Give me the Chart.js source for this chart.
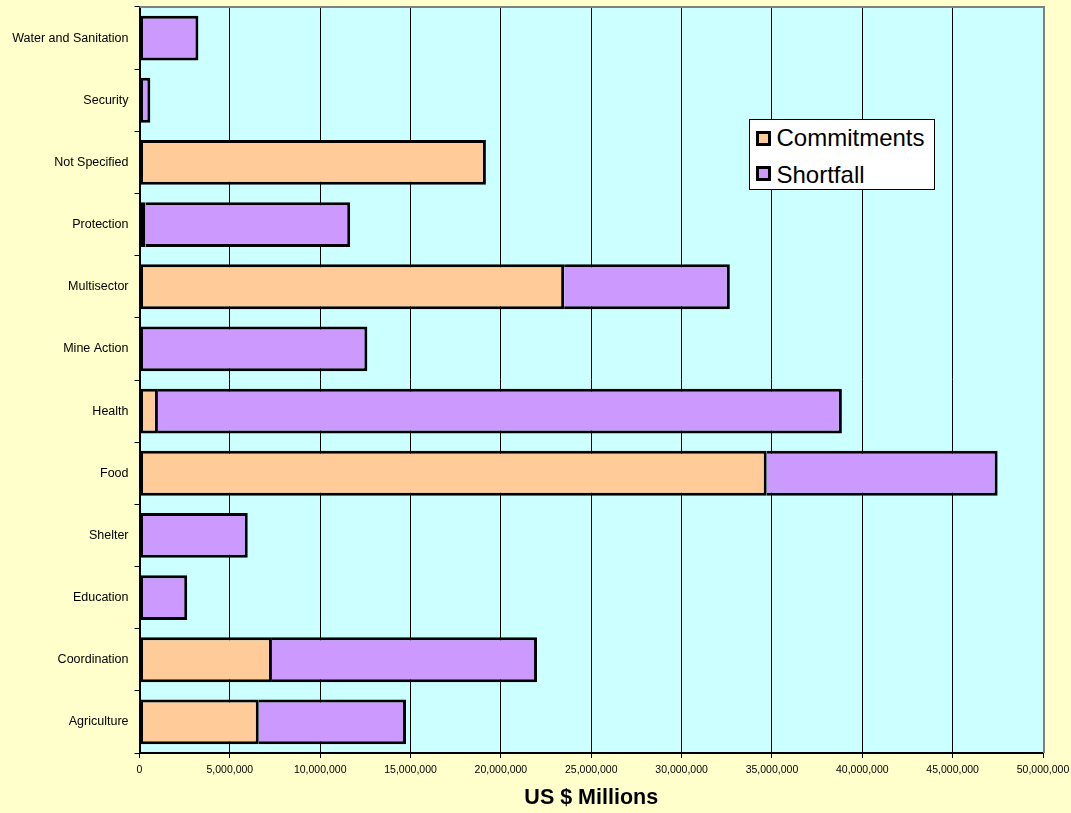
<!DOCTYPE html>
<html>
<head>
<meta charset="utf-8">
<script src="https://cdn.jsdelivr.net/npm/chart.js@4"></script>
<style>
  body { margin: 0; background: #FFFFCC; }
  #wrap { position: relative; width: 1071px; height: 813px; }
  #legend {
    position: absolute; left: 749px; top: 119px; width: 186px; height: 71px;
    box-sizing: border-box; border: 1px solid #000; background: #fff;
    font-family: Arial, 'Liberation Sans', sans-serif; font-size: 24px; line-height: 24px;
  }
  #legend .sw { position: absolute; width: 15px; height: 15px; box-sizing: border-box; border: 3px solid #000; }
  #legend .tx { position: absolute; white-space: nowrap; }
</style>
</head>
<body>
<div id="wrap">
  <canvas id="barChart" width="1071" height="813"></canvas>
  <div id="legend"></div>
</div>
<script>
const categories = ['Water and Sanitation', 'Security', 'Not Specified', 'Protection', 'Multisector', 'Mine Action',
    'Health', 'Food', 'Shelter', 'Education', 'Coordination', 'Agriculture'];
const commitments = [0, 0, 19170000, 330000, 23500000, 0, 1020000, 34710000, 0, 0, 7330000, 6600000];
const shortfall = [3260000, 600000, 0, 11330000, 9170000, 12610000, 37850000, 12780000, 5990000, 2640000, 14670000, 8150000];
const xTicks = [0, 5000000, 10000000, 15000000, 20000000, 25000000, 30000000, 35000000, 40000000, 45000000, 50000000];
const seriesNames = ['Commitments', 'Shortfall'];
const seriesColors = ['#FFCC99', '#CC99FF'];

const font = "Arial, 'Liberation Sans', sans-serif";

// plot area fill and the grey frame on top/right
const plotFrame = {
    id: 'plotFrame',
    beforeDraw(chart) {
        const a = chart.chartArea, c = chart.ctx;
        c.save();
        c.fillStyle = '#CCFFFF';
        c.fillRect(a.left, a.top, a.right - a.left, a.bottom - a.top);
        c.restore();
    },
    afterDraw(chart) {
        const a = chart.chartArea, c = chart.ctx;
        c.save();
        c.strokeStyle = '#808080';
        c.lineWidth = 2;
        c.beginPath();
        c.moveTo(a.left, a.top);
        c.lineTo(a.right + 1, a.top);
        c.lineTo(a.right + 1, a.bottom);
        c.stroke();
        c.restore();
    }
};

window.onload = function () {
    const ctx = document.getElementById('barChart').getContext('2d');
    new Chart(ctx, {
        type: 'bar',
        data: {
            labels: categories,
            datasets: [
                {
                    label: seriesNames[0],
                    data: commitments,
                    backgroundColor: seriesColors[0],
                    borderColor: '#000',
                    borderWidth: 3,
                    borderSkipped: false,
                },
                {
                    label: seriesNames[1],
                    data: shortfall,
                    backgroundColor: seriesColors[1],
                    borderColor: '#000',
                    borderWidth: (c) => ({ top: 3, bottom: 3, right: 3, left: commitments[c.dataIndex] > 0 ? 0 : 3 }),
                    borderSkipped: false,
                }
            ]
        },
        options: {
            indexAxis: 'y',
            responsive: false,
            animation: false,
            barPercentage: 0.72,
            categoryPercentage: 1,
            layout: { padding: { top: 7, right: 28, left: 0, bottom: 0 } },
            plugins: {
                legend: { display: false },
                tooltip: { enabled: false }
            },
            scales: {
                x: {
                    stacked: true,
                    min: 0,
                    max: 50000000,
                    afterBuildTicks: (s) => { s.ticks = xTicks.map(v => ({ value: v })); },
                    afterFit: (s) => { s.height = 60; s.paddingLeft = 0; s.paddingRight = 0; },
                    grid: { color: '#000', lineWidth: 1, tickLength: 5, tickColor: '#000' },
                    border: { color: '#000', width: 2 },
                    ticks: {
                        color: '#000', padding: 6, maxRotation: 0, autoSkip: false,
                        font: { family: font, size: 10.5 },
                        callback: (v) => Number(v).toLocaleString('en-US')
                    },
                    title: {
                        display: true, text: 'US $ Millions', color: '#000',
                        font: { family: font, size: 21.5, weight: 'bold' },
                        padding: { top: 0, bottom: 2 }
                    }
                },
                y: {
                    stacked: true,
                    afterFit: (s) => { s.width = 139.5; s.paddingTop = 0; s.paddingBottom = 0; },
                    grid: { drawOnChartArea: false, offset: true, tickLength: 5, color: '#000', tickColor: '#000' },
                    border: { color: '#000', width: 2 },
                    ticks: { color: '#000', padding: 6, font: { family: font, size: 12.5 } }
                }
            }
        },
        plugins: [plotFrame]
    });

    // legend box
    const lg = document.getElementById('legend');
    const rows = [{ sw: 10.5, tx: 5.7 }, { sw: 46, tx: 43 }];
    seriesNames.forEach((name, i) => {
        const sw = document.createElement('div');
        sw.className = 'sw';
        sw.style.left = '5.5px';
        sw.style.top = rows[i].sw + 'px';
        sw.style.background = seriesColors[i];
        lg.appendChild(sw);
        const tx = document.createElement('div');
        tx.className = 'tx';
        tx.style.left = '26.5px';
        tx.style.top = rows[i].tx + 'px';
        tx.textContent = name;
        lg.appendChild(tx);
    });
};
</script>
</body>
</html>
